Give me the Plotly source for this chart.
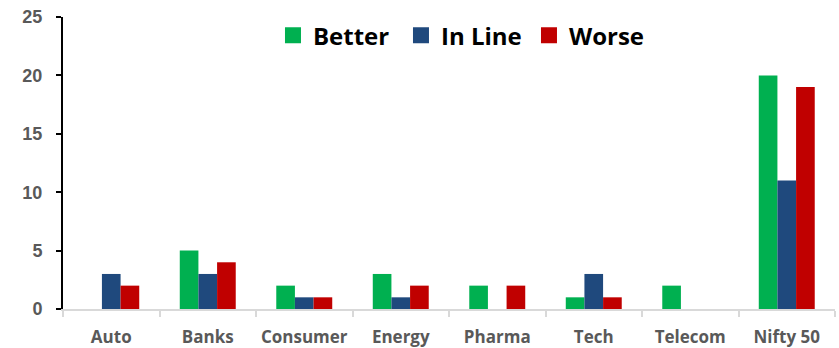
import plotly.graph_objects as go

# Sector tallies of results versus expectations
sectors = ["Auto", "Banks", "Consumer", "Energy", "Pharma", "Tech", "Telecom", "Nifty 50"]
better = [0, 5, 2, 3, 2, 1, 2, 20]
in_line = [3, 3, 1, 1, 0, 3, 0, 11]
worse = [2, 4, 1, 2, 2, 1, 0, 19]
y_ticks = [0, 5, 10, 15, 20, 25]

series = [
    ("Better", better, "#00B050"),
    ("In Line", in_line, "#1F497D"),
    ("Worse", worse, "#C00000"),
]

fig = go.Figure()
for name, vals, color in series:
    fig.add_trace(go.Bar(
        x=sectors, y=vals, name=name, showlegend=False,
        marker=dict(color=color, line=dict(width=0)),
    ))
# Legend entries with larger square swatches
for name, vals, color in series:
    fig.add_trace(go.Scatter(
        x=[None], y=[None], mode="markers", name=name,
        marker=dict(symbol="square", size=16, color=color),
    ))

fig.update_layout(
    width=839, height=348,
    margin=dict(l=63, r=4, t=17, b=39),
    paper_bgcolor="white", plot_bgcolor="white",
    barmode="group", bargap=0.42, bargroupgap=0,
    font=dict(family="Open Sans", color="#595959"),
    legend=dict(
        orientation="h", x=0.272, xanchor="left", y=1.013, yanchor="top",
        font=dict(family="Open Sans", size=24, color="black", weight="bold"),
        itemwidth=30, entrywidth=83, tracegroupgap=0, bgcolor="rgba(0,0,0,0)",
    ),
    xaxis=dict(
        showline=True, linecolor="#D9D9D9", linewidth=2,
        ticks="outside", tickson="boundaries", ticklen=6, tickcolor="#D9D9D9", tickwidth=2,
        tickfont=dict(family="Open Sans", size=17, color="#595959", weight="bold"),
        ticklabelstandoff=12, tickangle=0, automargin=False,
        showgrid=False, zeroline=False,
    ),
    yaxis=dict(
        range=[0, 25], tickvals=y_ticks,
        showline=True, linecolor="black", linewidth=2,
        ticks="outside", ticklen=5, tickcolor="black", tickwidth=2,
        tickfont=dict(family="Liberation Sans", size=18, color="#595959", weight="bold"),
        ticklabelstandoff=10, automargin=False, showgrid=False, zeroline=False,
    ),
)

fig.write_html("out.html")
